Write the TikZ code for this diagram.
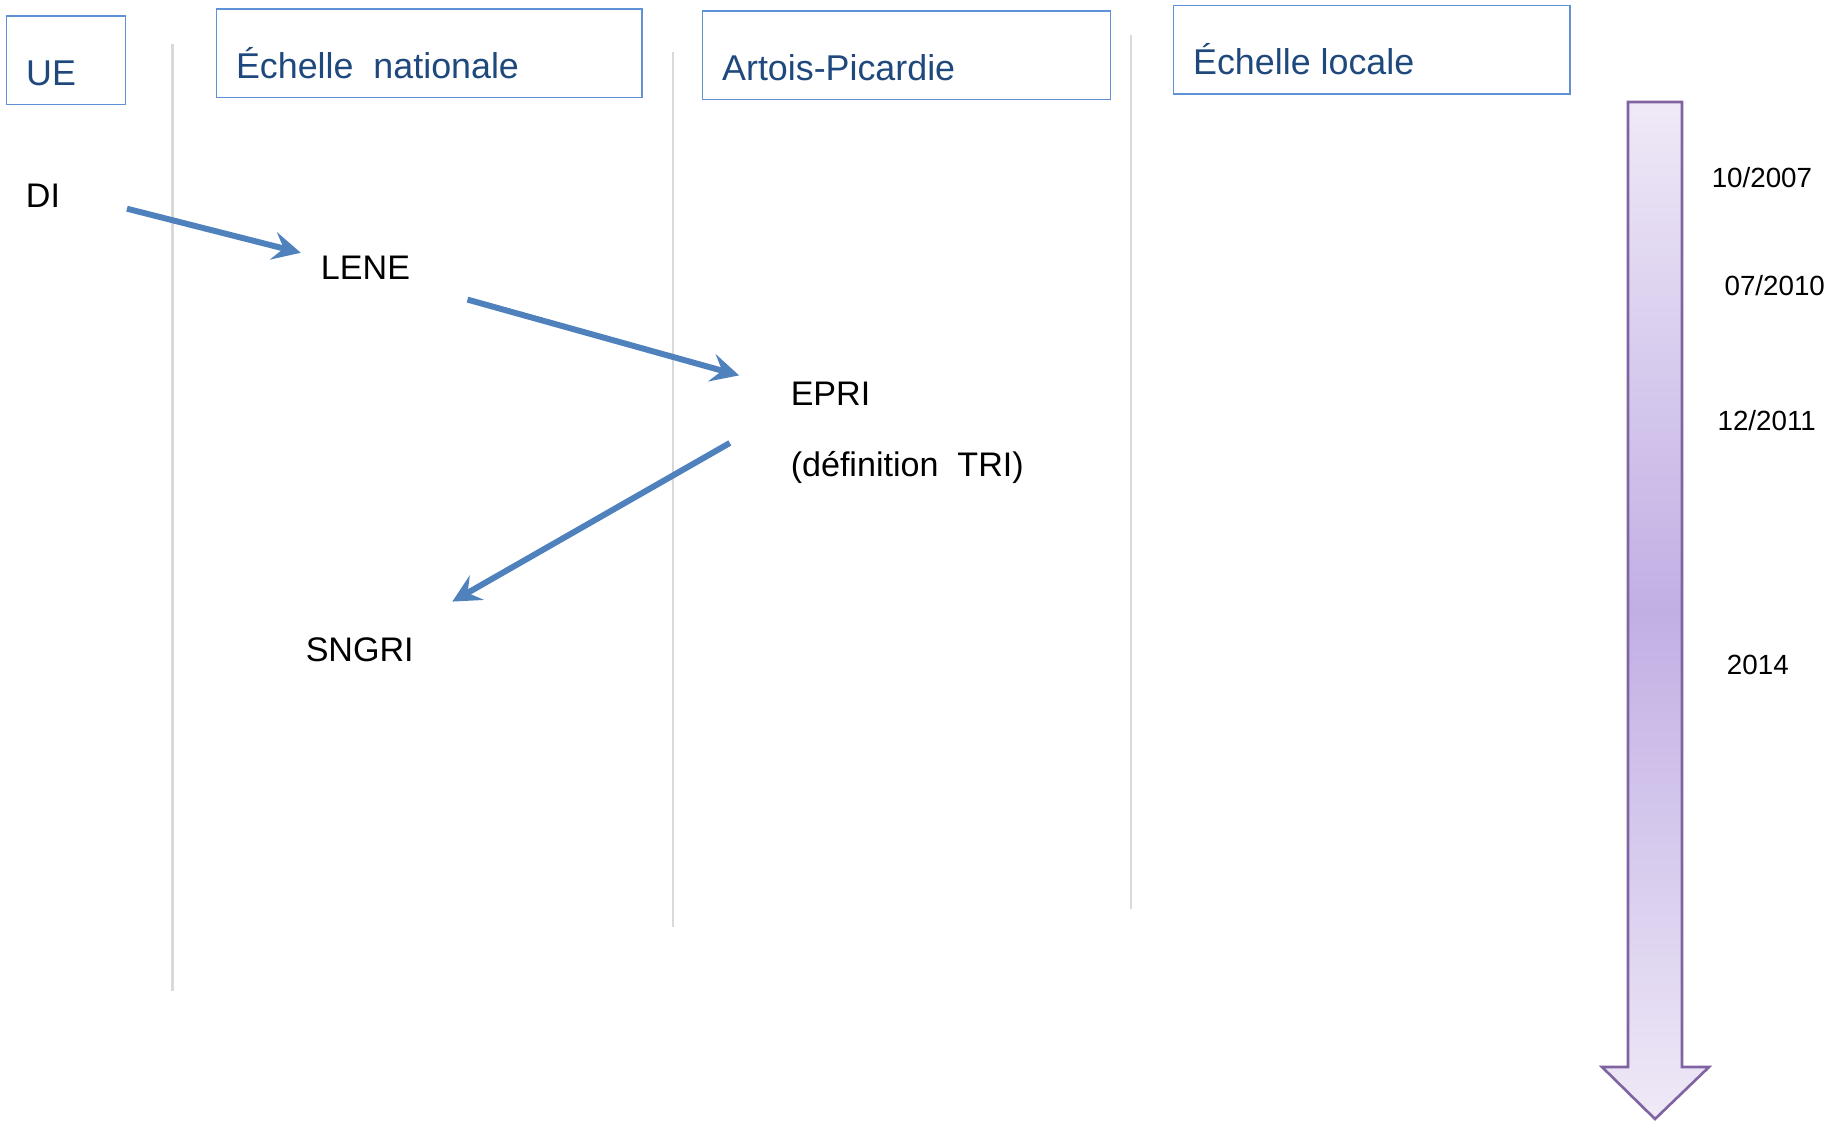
\documentclass[tikz,border=0pt]{standalone}
\usepackage{fontspec}
\setmainfont{Liberation Sans}
\usetikzlibrary{arrows.meta,
	calc}

\definecolor{hdrblue}{RGB}{31,73,125}
\definecolor{boxblue}{RGB}{95,145,215}
\definecolor{flowblue}{RGB}{79,129,189}
\definecolor{sepgray}{RGB}{217,217,217}
\definecolor{timepurple}{RGB}{128,100,162}
\definecolor{timelight}{RGB}{239,233,247}
\definecolor{timedark}{RGB}{193,175,228}

\begin{document}
\begin{tikzpicture}[x=0.02cm,y=-0.02cm]
        \tikzstyle{hdrbox}=[draw=boxblue,line width=0.8pt,minimum height=1.772cm,anchor=north west,inner sep=0pt]
        \tikzstyle{hdr}=[anchor=base west,inner sep=0pt,text=hdrblue,font=\fontsize{20.4}{24}\selectfont]
        \tikzstyle{lbl}=[anchor=base west,inner sep=0pt,font=\fontsize{19.4}{23}\selectfont]
        \tikzstyle{datelbl}=[anchor=base west,inner sep=0pt,font=\fontsize{15.8}{19}\selectfont]
        \tikzstyle{flow}=[draw=flowblue,line width=3.4pt,-{Stealth[length=16pt,width=16pt,inset=6pt]}]
        \tikzstyle{sepline}=[draw=sepgray,line width=1.2pt]
        \useasboundingbox (0,0) rectangle (1828,1121);
        % column separators
        \draw[sepline] (172.5,44.3) -- (172.5,991);
        \draw[sepline] (672.7,52.5) -- (672.7,926.8);
        \draw[sepline] (1130.8,35) -- (1130.8,909);
        % column headers
        \node[hdrbox,minimum width=2.378cm] (uebox) at (5.8,15.2) {};
        \node[hdrbox,minimum width=8.51cm] (natbox) at (215.7,8.2) {};
        \node[hdrbox,minimum width=8.16cm] (apbox) at (701.8,10.5) {};
        \node[hdrbox,minimum width=7.928cm] (locbox) at (1172.8,4.7) {};
        \node[hdr] (ue) at ([shift={(20,-20)}]uebox.south west) {UE};
        \node[hdr] (nat) at ([shift={(20,-20)}]natbox.south west) {Échelle\ \ nationale};
        \node[hdr] (ap) at ([shift={(20,-20)}]apbox.south west) {Artois-Picardie};
        \node[hdr] (loc) at ([shift={(20,-20)}]locbox.south west) {Échelle locale};
        % steps
        \node[lbl] (di) at (25.6,207.5) {DI};
        \node[lbl] (lene) at (320.6,279.8) {LENE};
        \node[lbl] (epri) at (790.4,405.7) {EPRI};
        \node[lbl] (tri) at (790.4,476.8) {(définition\ \ TRI)};
        \node[lbl] (sngri) at (305.4,661) {SNGRI};
        \draw[flow] ([shift={(101.4,1.2)}]di.base west) -- ([shift={(-19.8,-27)}]lene.base west);
        \draw[flow] ([shift={(146.9,19.8)}]lene.base west) -- ([shift={(-51.3,-30.3)}]epri.base west);
        \draw[flow] ([shift={(-60.6,37.3)}]epri.base west) -- ([shift={(146.9,-59.4)}]sngri.base west);
        % time axis
        \shadedraw[top color=timelight,bottom color=timelight,middle color=timedark,draw=timepurple,line width=1.5pt]
          (1628,102) -- (1682,102) -- (1682,1067) -- (1709,1067) -- (1655,1119)
          -- (1602,1067) -- (1628,1067) -- cycle;
        \node[datelbl] (d2007) at (1711.4,188) {10/2007};
        \node[datelbl] (d2010) at (1724.2,295.5) {07/2010};
        \node[datelbl] (d2011) at (1717.2,430.8) {12/2011};
        \node[datelbl] (d2014) at (1726.6,674.4) {2014};
      \end{tikzpicture}
\end{document}
